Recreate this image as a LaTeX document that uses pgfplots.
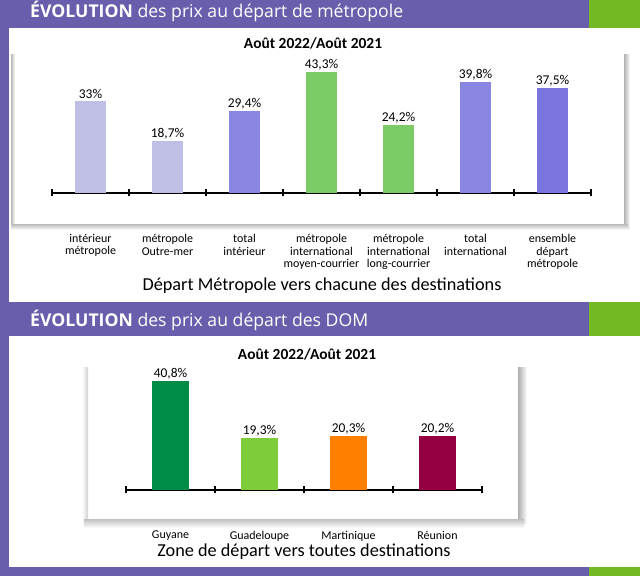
\documentclass[border=0pt]{standalone}
\usepackage{fontspec}
\setmainfont{Carlito}
\newfontfamily\hdrfont{Open Sans}
\usepackage{pgfplots}
\pgfplotsset{compat=1.18}
\definecolor{purp}{RGB}{104,94,172}
\definecolor{grn}{RGB}{115,185,35}
\definecolor{lav}{RGB}{191,190,228}
\definecolor{mpur}{RGB}{137,134,226}
\definecolor{bgrn}{RGB}{125,203,102}
\definecolor{dpur}{RGB}{122,116,222}
\definecolor{guy}{RGB}{0,140,70}
\definecolor{gua}{RGB}{125,204,58}
\definecolor{mar}{RGB}{255,128,0}
\definecolor{reu}{RGB}{148,0,66}
\pgfplotsset{
  barchart/.style={
    scale only axis,
    anchor=south west,
    ybar, bar shift=0pt,
    ymin=0,
    axis y line=none,
    axis x line*=bottom,
    x axis line style={black, line width=1.1bp},
    major tick length=0pt,
    minor tick length=7bp,
    tick align=center,
    minor tick style={black, line width=1.1bp},
    xticklabel style={align=center, anchor=north, inner sep=0pt, font=\fontsize{12}{12.6}\selectfont},
    nodes near coords,
    point meta=explicit symbolic,
    every node near coord/.append style={font=\fontsize{13.5}{14}\selectfont, anchor=south, inner sep=1.5bp, text=black},
    clip=false,
  }
}
\begin{document}
\begin{tikzpicture}[x=1bp,y=1bp]
\useasboundingbox (0,0) rectangle (640,576);
\fill[purp] (0,0) rectangle (640,576);
\fill[grn] (589,548) rectangle (640,576);
\fill[grn] (589,240) rectangle (640,274);
\fill[grn] (589,0) rectangle (640,9);
\fill[white] (9,274) rectangle (640,548);
\fill[white] (9,9) rectangle (640,240);
% box 1 shadow
\shade[left color=black!28, right color=white] (11,351) rectangle (15,521);
\shade[left color=black!30, right color=white] (624,347) rectangle (630,521);
\shade[top color=black!22, bottom color=white] (11,346) rectangle (628,351);
% box 2 shadow
\shade[left color=white, right color=black!18] (82,52) rectangle (88,208);
\shade[left color=black!32, right color=white] (518,52) rectangle (527,208);
\shade[top color=black!22, bottom color=white] (84,48) rectangle (524,56);
% headers
\node[anchor=base west, text=white, inner sep=0, font=\hdrfont\fontsize{17.7}{19}\selectfont] at (30,558) {\textbf{ÉVOLUTION} des prix au départ de métropole};
\node[anchor=base west, text=white, inner sep=0, font=\hdrfont\fontsize{17.7}{19}\selectfont] at (30,249) {\textbf{ÉVOLUTION} des prix au départ des DOM};
% titles
\node[anchor=base, inner sep=0, font=\bfseries\fontsize{15.5}{17}\selectfont] at (313,527) {Août 2022/Août 2021};
\node[anchor=base, inner sep=0, font=\bfseries\fontsize{15.5}{17}\selectfont] at (307,216) {Août 2022/Août 2021};
% captions
\node[anchor=base, inner sep=0, font=\fontsize{18.3}{20}\selectfont] at (322,285) {Départ Métropole vers chacune des destinations};
\node[anchor=base, inner sep=0, font=\fontsize{18.3}{20}\selectfont] at (304,19) {Zone de départ vers toutes destinations};

\begin{axis}[barchart,
  at={(52bp,383bp)}, width=539bp, height=139.75bp,
  xmin=-0.5, xmax=6.5, ymax=50,
  bar width=31bp,
  xtick={0,...,6},
  minor xtick={-0.5,0.5,...,6.5},
  xticklabels={intérieur\\métropole, métropole\\Outre-mer, total\\intérieur, métropole\\international\\moyen-courrier, métropole\\international\\long-courrier, total\\international, ensemble\\départ\\métropole},
  xticklabel style={yshift=-41bp},
]
\addplot[fill=lav, draw=none] coordinates {(0,33) [33\%]};
\addplot[fill=lav, draw=none] coordinates {(1,18.7) [18,7\%]};
\addplot[fill=mpur, draw=none] coordinates {(2,29.4) [29,4\%]};
\addplot[fill=bgrn, draw=none] coordinates {(3,43.3) [43,3\%]};
\addplot[fill=bgrn, draw=none] coordinates {(4,24.2) [24,2\%]};
\addplot[fill=mpur, draw=none] coordinates {(5,39.8) [39,8\%]};
\addplot[fill=dpur, draw=none] coordinates {(6,37.5) [37,5\%]};
\end{axis}

\begin{axis}[barchart,
  at={(126bp,86bp)}, width=356bp, height=120.6bp,
  xmin=-0.5, xmax=3.5, ymax=45,
  bar width=37bp,
  xtick={0,...,3},
  minor xtick={-0.5,0.5,...,3.5},
  xticklabels={Guyane, Guadeloupe, Martinique, Réunion},
  xticklabel style={yshift=-41bp},
]
\addplot[fill=guy, draw=none] coordinates {(0,40.8) [40,8\%]};
\addplot[fill=gua, draw=none] coordinates {(1,19.3) [19,3\%]};
\addplot[fill=mar, draw=none] coordinates {(2,20.3) [20,3\%]};
\addplot[fill=reu, draw=none] coordinates {(3,20.2) [20,2\%]};
\end{axis}
\end{tikzpicture}
\end{document}
